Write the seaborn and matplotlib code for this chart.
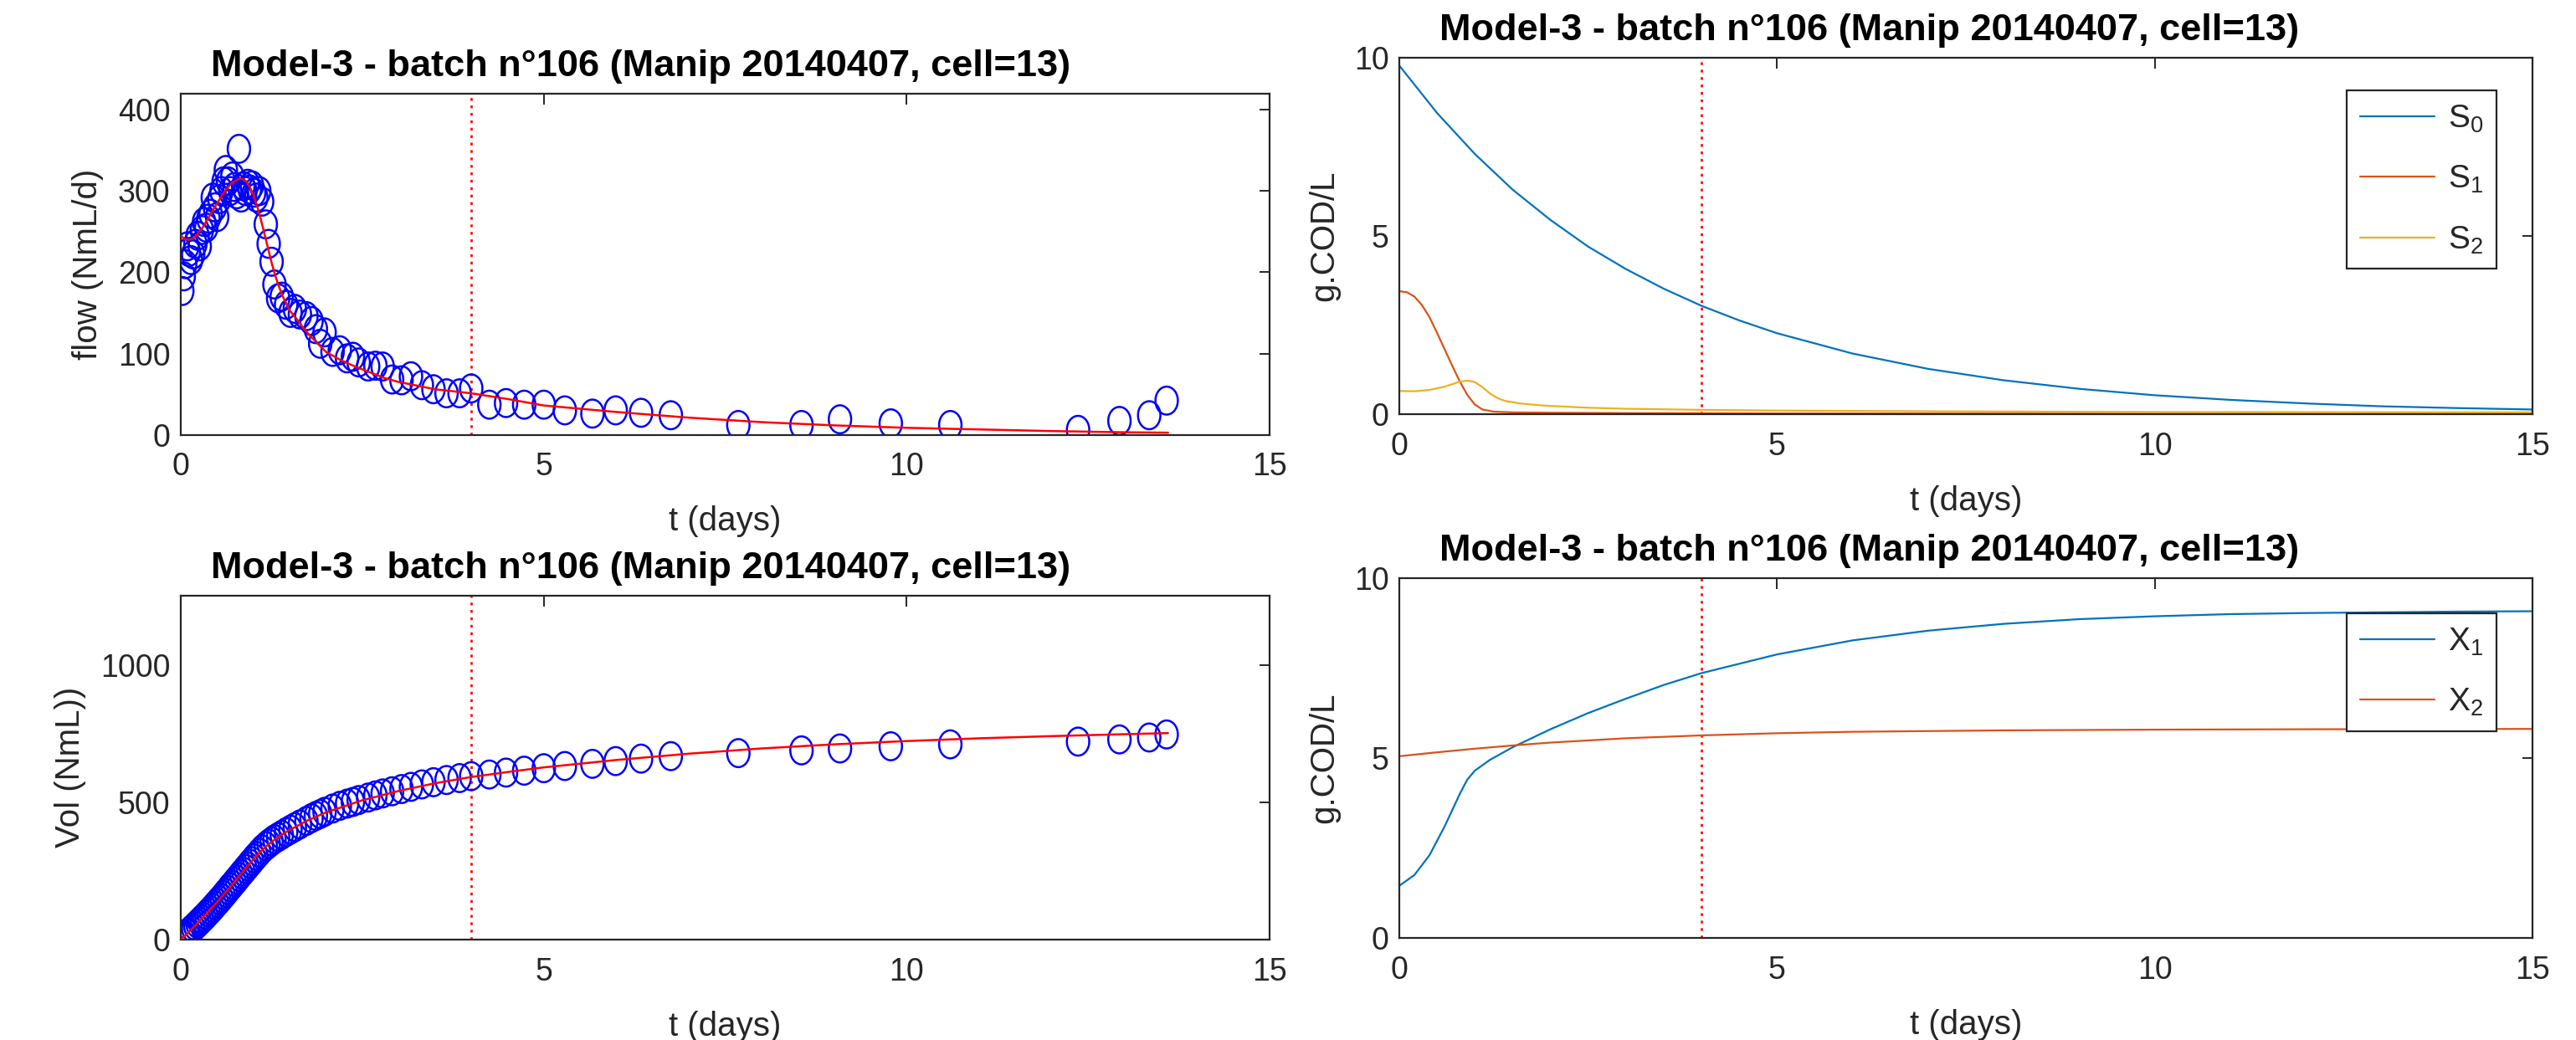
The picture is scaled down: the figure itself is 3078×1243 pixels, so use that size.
import numpy as np
import matplotlib
matplotlib.use("Agg")
import matplotlib.pyplot as plt
from matplotlib.path import Path
import seaborn as sns

# measured points (biogas flow and cumulated volume)
t_obs = [0.02, 0.04, 0.06, 0.09, 0.11, 0.14, 0.17, 0.20, 0.23, 0.26, 0.29, 0.32, 0.35, 0.38,
         0.41, 0.44, 0.47, 0.50, 0.53, 0.56, 0.59, 0.62, 0.65, 0.68, 0.71, 0.74, 0.77, 0.80,
         0.83, 0.86, 0.89, 0.92, 0.95, 0.98, 1.01, 1.04, 1.08, 1.12, 1.17, 1.21, 1.25,
         1.29, 1.34, 1.39, 1.45, 1.51, 1.57, 1.64, 1.73, 1.80, 1.86, 1.92, 1.98, 2.09, 2.19,
         2.29, 2.37, 2.45, 2.58, 2.68, 2.78, 2.91, 3.04, 3.17, 3.32, 3.48, 3.66, 3.84, 4.00,
         4.25, 4.48, 4.73, 5.00, 5.29, 5.67, 5.99, 6.34, 6.75, 7.68, 8.55, 9.08, 9.78, 10.60,
         12.36, 12.93, 13.34, 13.58]
flow_obs = [177, 195, 210, 232, 225, 215, 222, 235, 245, 232, 252, 262, 255, 266,
            272, 292, 280, 268, 290, 300, 312, 326, 312, 300, 318, 305, 296, 352,
            292, 306, 300, 309, 302, 307, 298, 292, 300, 287, 259, 235, 213,
            185, 168, 170, 160, 150, 155, 148, 146, 140, 130, 112, 126, 102, 104,
            94, 96, 89, 84, 85, 84, 68, 67, 72, 61, 56, 51, 51, 57,
            37, 39, 37, 37, 30, 26, 30, 27, 24, 12, 12, 19, 14, 12,
            6, 17, 24, 42]
vol_obs = [5, 10, 15, 22, 27, 35, 42, 50, 58, 66, 74, 82, 90, 99,
           107, 116, 125, 134, 143, 152, 162, 171, 181, 191, 200, 210, 219, 229,
           239, 248, 258, 267, 277, 286, 296, 305, 317, 329, 341, 350, 358,
           366, 374, 382, 392, 401, 410, 420, 433, 443, 451, 458, 466, 478, 488,
           496, 502, 509, 518, 526, 533, 541, 549, 557, 566, 574, 582, 589, 596,
           602, 609, 616, 625, 633, 641, 651, 660, 669, 680, 690, 697, 705, 712,
           722, 730, 737, 748]

# model fit
t_flow_fit = [0.0, 0.05, 0.1, 0.15, 0.2, 0.3, 0.4, 0.5, 0.6, 0.7, 0.8, 0.85, 0.9, 0.95,
              1.0, 1.05, 1.1, 1.15, 1.2, 1.25, 1.3, 1.35, 1.4, 1.5, 1.6, 1.7, 1.8, 2.0,
              2.2, 2.4, 2.6, 2.8, 3.0, 3.5, 4.0, 4.5, 5.0, 5.5, 6.0, 7.0, 8.0, 9.0,
              10.0, 11.0, 12.0, 13.0, 13.6]
flow_fit = [245, 241, 240, 241, 244, 255, 270, 285, 299, 310, 315, 315, 312, 305,
            295, 282, 266, 248, 230, 212, 196, 183, 171, 153, 142, 130, 120, 102,
            92, 84, 77, 70, 65, 56, 51, 44, 36, 32, 28, 21, 15.5, 11.5,
            8.5, 6.5, 4.5, 3, 2.5]
t_vol_fit = [0, 0.1, 0.2, 0.3, 0.4, 0.5, 0.6, 0.7, 0.8, 0.9, 1.0, 1.1, 1.2, 1.3, 1.4,
             1.5, 1.75, 2.0, 2.5, 3.0, 3.5, 4.0, 4.5, 5, 6, 7, 8, 9, 10, 11, 12, 13, 13.6]
vol_fit = [0, 25, 52, 80, 108, 137, 167, 198, 230, 262, 293, 322, 346, 366, 384,
           400, 435, 464, 508, 542, 570, 593, 611, 628, 655, 678, 697, 712, 724, 734,
           742, 749, 753]

# state variables
t_s0 = [0, 0.5, 1, 1.5, 2, 2.5, 3, 3.5, 4, 4.5, 5, 6, 7, 8, 9, 10, 11, 12, 13, 14, 15]
s0 = [9.78, 8.45, 7.30, 6.30, 5.45, 4.70, 4.07, 3.52, 3.04, 2.63, 2.27, 1.70, 1.27,
      0.95, 0.71, 0.53, 0.40, 0.30, 0.22, 0.17, 0.13]
t_s1 = [0, 0.1, 0.2, 0.3, 0.4, 0.5, 0.6, 0.7, 0.8, 0.9, 1.0, 1.1, 1.25, 1.5, 2, 3, 5, 10, 15]
s1 = [3.45, 3.42, 3.30, 3.06, 2.72, 2.28, 1.82, 1.36, 0.92, 0.54, 0.27, 0.13, 0.07,
      0.05, 0.04, 0.03, 0.02, 0.01, 0.01]
t_s2 = [0, 0.2, 0.4, 0.6, 0.7, 0.8, 0.9, 1.0, 1.1, 1.2, 1.3, 1.4, 1.6, 1.8, 2, 2.5, 3,
        4, 5, 7, 10, 15]
s2 = [0.65, 0.64, 0.68, 0.77, 0.84, 0.91, 0.94, 0.90, 0.76, 0.58, 0.45, 0.37, 0.30,
      0.26, 0.23, 0.18, 0.15, 0.12, 0.10, 0.08, 0.06, 0.05]
t_x1 = [0, 0.2, 0.4, 0.6, 0.8, 0.9, 1.0, 1.2, 1.5, 2, 2.5, 3, 3.5, 4, 5, 6, 7, 8, 9,
        10, 11, 12, 13, 14, 15]
x1 = [1.45, 1.75, 2.30, 3.10, 4.00, 4.40, 4.65, 4.95, 5.30, 5.80, 6.25, 6.65, 7.03,
      7.36, 7.88, 8.27, 8.54, 8.73, 8.86, 8.94, 9.00, 9.03, 9.05, 9.07, 9.08]
t_x2 = [0, 0.5, 1, 1.5, 2, 3, 4, 5, 6, 8, 10, 12, 15]
x2 = [5.05, 5.16, 5.26, 5.35, 5.43, 5.55, 5.63, 5.69, 5.73, 5.77, 5.79, 5.80, 5.81]

t_split = 4
title = "Model-3 - batch n°106 (Manip 20140407, cell=13)"

sns.set_theme(style="white")
plt.rcParams["font.family"] = ["Liberation Sans", "DejaVu Sans"]
plt.rcParams["mathtext.fontset"] = "custom"
plt.rcParams["mathtext.rm"] = "Liberation Sans"

ML_BLUE, ML_ORANGE, ML_YELLOW = "#0072BD", "#D95319", "#EDB120"
AX_COL = "#262626"

# slightly oval open circle, like the stretched matlab export
th = np.linspace(0, 2 * np.pi, 64)
oval = Path(np.column_stack([0.8 * np.cos(th), np.sin(th)]), closed=True)

fig = plt.figure(figsize=(30.78, 12.43), dpi=100)
ax_flow = fig.add_axes([0.0702, 0.582, 0.4227, 0.328])
ax_vol = fig.add_axes([0.0702, 0.0965, 0.4227, 0.331])
ax_s = fig.add_axes([0.5432, 0.6018, 0.4399, 0.3427])
ax_x = fig.add_axes([0.5432, 0.0981, 0.4399, 0.346])


def style_ax(ax, ylim, yticks, ylabel, title_x):
    ax.set_xlim(0, 15)
    ax.set_xticks([0, 5, 10, 15])
    ax.set_ylim(*ylim)
    ax.set_yticks(yticks)
    ax.tick_params(direction="in", length=9, width=1.4, top=True, right=True,
                   labelsize=27, colors=AX_COL)
    ax.tick_params(axis="x", pad=15)
    ax.tick_params(axis="y", pad=9)
    for sp in ax.spines.values():
        sp.set_color(AX_COL)
        sp.set_linewidth(1.6)
    ax.set_xlabel("t (days)", fontsize=29, color=AX_COL, labelpad=20)
    ax.set_ylabel(ylabel, fontsize=29, color=AX_COL, labelpad=12)
    ax.annotate(title, xy=(title_x, 1), xycoords="axes fraction", xytext=(0, 15),
                textcoords="offset points", ha="center", va="baseline",
                fontsize=32.5, fontweight="bold", color="black")
    ax.axvline(t_split, color="#FF1010", ls=(0, (1.2, 2.0)), lw=2.0, zorder=1)


def style_legend(ax, anchor):
    leg = ax.legend(loc="upper right", bbox_to_anchor=anchor, borderaxespad=0,
                    fontsize=28, frameon=True, fancybox=False, framealpha=1,
                    edgecolor=AX_COL, handlelength=2.3, labelspacing=0.9,
                    borderpad=0.4, handletextpad=0.4)
    leg.get_frame().set_linewidth(1.6)


# flow
sns.scatterplot(x=t_obs, y=flow_obs, ax=ax_flow, marker=oval, s=580,
                facecolor="none", edgecolor="#0000FF", linewidth=1.8, zorder=2)
sns.lineplot(x=t_flow_fit, y=flow_fit, ax=ax_flow, color="#FF0000", lw=1.8, zorder=3)
style_ax(ax_flow, (0, 420), [0, 100, 200, 300, 400], "flow (NmL/d)", 0.422)

# cumulated volume
sns.scatterplot(x=t_obs, y=vol_obs, ax=ax_vol, marker=oval, s=580,
                facecolor="none", edgecolor="#0000FF", linewidth=1.8, zorder=2)
sns.lineplot(x=t_vol_fit, y=vol_fit, ax=ax_vol, color="#FF0000", lw=1.8, zorder=3)
style_ax(ax_vol, (0, 1255), [0, 500, 1000], "Vol (NmL))", 0.422)

# substrates
sns.lineplot(x=t_s0, y=s0, ax=ax_s, color=ML_BLUE, lw=1.6, label=r"$\mathregular{S_0}$")
sns.lineplot(x=t_s1, y=s1, ax=ax_s, color=ML_ORANGE, lw=1.6, label=r"$\mathregular{S_1}$")
sns.lineplot(x=t_s2, y=s2, ax=ax_s, color=ML_YELLOW, lw=1.6, label=r"$\mathregular{S_2}$")
style_ax(ax_s, (0, 10), [0, 5, 10], "g.COD/L", 0.415)
style_legend(ax_s, (0.968, 0.908))

# biomasses
sns.lineplot(x=t_x1, y=x1, ax=ax_x, color=ML_BLUE, lw=1.6, label=r"$\mathregular{X_1}$")
sns.lineplot(x=t_x2, y=x2, ax=ax_x, color=ML_ORANGE, lw=1.6, label=r"$\mathregular{X_2}$")
style_ax(ax_x, (0, 10), [0, 5, 10], "g.COD/L", 0.415)
style_legend(ax_x, (0.968, 0.902))

fig.savefig("out.png", dpi=100)
